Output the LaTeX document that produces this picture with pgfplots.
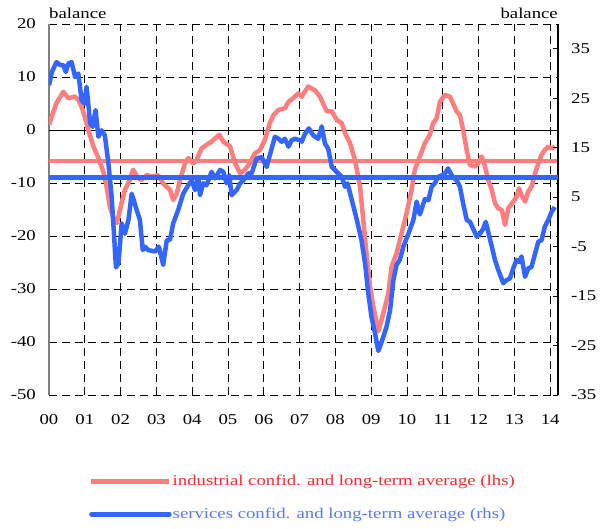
\documentclass[border=0pt]{standalone}
\usepackage{fontspec}
\setmainfont{Liberation Serif}[FakeStretch=1.25]
\usepackage{pgfplots}
\pgfplotsset{compat=1.18}
\definecolor{lred}{RGB}{255,125,125}
\definecolor{lblue}{RGB}{51,102,255}
\definecolor{tred}{RGB}{255,40,40}
\definecolor{tblue}{RGB}{85,120,255}
\begin{document}
\begin{tikzpicture}
\pgfplotsset{
  common/.style={
    scale only axis, width=509pt, height=371pt,
    xmin=0, xmax=14.22,
    at={(0,0)}, anchor=south west,
    font=\fontsize{15}{18}\selectfont,
  },
}
\begin{axis}[common,
  ymin=-50, ymax=20,
  axis y line*=left, axis x line*=bottom,
  x axis line style={draw=none},
  y axis line style={draw=gray, line width=1.8pt},
  xtick={0,...,14},
  xticklabels={00,01,02,03,04,05,06,07,08,09,10,11,12,13,14},
  ytick={-50,-40,-30,-20,-10,10,20},
  yticklabels={-50,-40,-30,-20,-10,10,20},
  extra y ticks={0}, extra y tick labels={0},
  extra y tick style={grid=major, major grid style={solid, black, line width=0.8pt}},
  grid=major,
  major grid style={black, line width=0.8pt, dash pattern=on 8pt off 5pt},
  major tick length=0pt,
  xticklabel style={inner sep=0pt, yshift=-19pt},
  yticklabel style={inner sep=0pt, xshift=-13pt},
  every axis y label/.style={at={(axis description cs:0,1)}, anchor=base west, yshift=6pt, inner sep=0pt},
  ylabel={balance},
  legend style={at={(axis description cs:0.0786,-0.213)}, anchor=north west, draw=none, fill=none,
    row sep=19pt, font=\fontsize{15}{18}\selectfont, inner sep=0pt,
    nodes={inner sep=1pt}},
  legend cell align=left,
  legend image code/.code={\draw[#1] (0pt,0pt) -- (78pt,0pt);},
]
\addplot[lred, line width=4.5pt, forget plot] coordinates {(0,-5.85) (14.22,-5.85)};
\addplot[lred, line width=4.5pt, line join=round] coordinates {
(0.00,1.0) (0.10,3.0) (0.21,5.1) (0.40,7.2) (0.54,6.0) (0.73,6.3) (0.82,5.7) (0.91,4.4)
(1.00,2.5) (1.10,0.0) (1.24,-3.1) (1.38,-5.3) (1.52,-7.9) (1.61,-10.7) (1.70,-14.5) (1.84,-17.3)
(1.90,-17.5) (1.98,-15.1) (2.12,-11.3) (2.26,-9.4) (2.35,-7.5) (2.49,-9.1) (2.59,-9.4) (2.73,-8.5)
(2.87,-8.8) (3.05,-8.5) (3.19,-10.1) (3.38,-11.3) (3.47,-13.2) (3.57,-12.0) (3.66,-9.4) (3.80,-6.3)
(3.89,-5.3) (4.03,-6.3) (4.12,-5.7) (4.26,-3.5) (4.40,-2.8) (4.54,-2.2) (4.64,-1.6) (4.76,-0.9)
(4.87,-2.2) (5.06,-3.1) (5.20,-6.3) (5.34,-8.2) (5.47,-7.5) (5.61,-6.3) (5.75,-4.4) (5.89,-3.8)
(6.03,-1.9) (6.17,1.3) (6.27,2.8) (6.41,3.8) (6.59,4.1) (6.69,5.3) (6.82,6.0) (6.96,6.9)
(7.06,6.3) (7.24,8.2) (7.43,7.5) (7.57,6.3) (7.76,3.5) (7.90,3.5) (8.04,1.9) (8.18,1.3)
(8.27,-0.6) (8.41,-2.5) (8.55,-5.7) (8.69,-10.7) (8.78,-17.0) (8.87,-23.3) (8.97,-29.6) (9.06,-33.3)
(9.20,-38.0) (9.34,-34.6) (9.48,-30.8) (9.57,-25.8) (9.71,-23.3) (9.85,-19.5) (9.99,-15.7) (10.13,-11.3)
(10.22,-7.5) (10.36,-5.0) (10.50,-2.5) (10.64,-0.9) (10.73,1.3) (10.83,2.2) (10.92,5.3) (11.06,6.6)
(11.20,6.3) (11.29,5.0) (11.39,3.5) (11.48,2.8) (11.57,0.0) (11.67,-3.8) (11.76,-6.6) (11.90,-6.9)
(11.99,-6.3) (12.09,-5.0) (12.18,-6.9) (12.27,-9.4) (12.37,-11.3) (12.46,-13.8) (12.55,-14.8) (12.65,-15.1)
(12.74,-17.9) (12.83,-14.8) (12.97,-13.5) (13.06,-12.6) (13.13,-11.0) (13.20,-12.3) (13.30,-13.5) (13.39,-11.6)
(13.48,-10.7) (13.58,-8.2) (13.67,-6.3) (13.76,-4.7) (13.85,-3.8) (13.95,-3.1) (14.04,-3.5) (14.13,-3.1)
};
\addlegendentry{\textcolor{tred}{industrial confid. and long-term average (lhs)}}
\addlegendimage{lblue, line width=4.5pt, line cap=round}
\addlegendentry{\textcolor{tblue}{services confid. and long-term average (rhs)}}
\end{axis}
\begin{axis}[common,
  ymin=-35, ymax=40,
  axis y line*=right, axis x line=none,
  y axis line style={black, line width=1.2pt},
  ytick={-35,-25,-15,-5,5,15,25,35},
  yticklabels={-35,-25,-15,-5,5,15,25,35},
  tick align=inside, major tick length=5pt,
  tick style={black, line width=0.8pt},
  yticklabel style={inner sep=0pt, xshift=13pt},
  every axis y label/.style={at={(axis description cs:1,1)}, anchor=base east, yshift=6pt, inner sep=0pt},
  ylabel={balance},
]
\addplot[lblue, line width=4.5pt] coordinates {(0,9.0) (14.22,9.0)};
\addplot[lblue, line width=4.5pt, line join=round] coordinates {
(0.00,27.6) (0.08,30.3) (0.21,32.3) (0.31,31.7) (0.40,31.7) (0.47,30.3) (0.54,32.0) (0.63,32.3)
(0.73,29.3) (0.82,30.0) (0.91,24.6) (0.99,23.9) (1.05,27.3) (1.15,19.9) (1.22,19.2) (1.30,22.6)
(1.38,17.2) (1.47,18.5) (1.56,17.5) (1.66,11.8) (1.75,5.1) (1.82,-3.0) (1.87,-9.2) (1.94,-8.4)
(2.03,-0.3) (2.12,-2.4) (2.22,0.4) (2.31,5.7) (2.45,2.4) (2.54,0.4) (2.62,-5.7) (2.68,-5.0)
(2.77,-5.7) (2.96,-6.0) (3.07,-5.0) (3.19,-8.7) (3.29,-3.7) (3.38,-3.6) (3.47,-0.3) (3.61,2.4)
(3.75,5.7) (3.89,7.4) (3.99,8.4) (4.08,6.4) (4.17,9.1) (4.22,5.4) (4.31,7.8) (4.40,7.4)
(4.54,10.1) (4.64,8.8) (4.78,10.5) (4.87,10.1) (4.96,7.8) (5.04,9.4) (5.10,5.4) (5.24,6.4)
(5.34,7.8) (5.43,8.4) (5.57,9.8) (5.66,9.8) (5.80,12.8) (5.94,13.1) (6.08,11.1) (6.17,13.5)
(6.31,17.2) (6.41,16.8) (6.50,16.2) (6.59,16.8) (6.69,15.2) (6.78,16.5) (6.87,16.8) (7.01,16.5)
(7.06,16.2) (7.15,17.8) (7.26,18.9) (7.38,17.5) (7.52,16.8) (7.62,19.3) (7.71,15.8) (7.80,14.8)
(7.90,11.1) (8.04,10.1) (8.18,9.1) (8.27,7.1) (8.34,7.8) (8.46,4.4) (8.60,0.4) (8.73,-3.7)
(8.83,-8.4) (8.92,-14.5) (9.01,-19.2) (9.11,-22.6) (9.20,-26.1) (9.31,-23.9) (9.43,-21.2) (9.53,-17.8)
(9.62,-11.8) (9.71,-8.7) (9.80,-7.7) (9.90,-5.0) (10.04,-2.4) (10.18,0.4) (10.27,4.1) (10.36,1.5)
(10.50,4.6) (10.60,4.4) (10.69,7.1) (10.78,7.8) (10.87,9.1) (10.97,9.4) (11.06,9.8) (11.15,10.8)
(11.25,9.4) (11.39,8.4) (11.48,7.1) (11.57,3.7) (11.67,0.4) (11.76,0.0) (11.85,-1.4) (11.95,-3.0)
(12.04,-2.4) (12.13,-1.4) (12.20,0.0) (12.27,-2.0) (12.37,-5.0) (12.46,-7.7) (12.55,-9.7) (12.69,-12.4)
(12.78,-11.8) (12.88,-11.4) (12.97,-9.4) (13.06,-7.7) (13.14,-8.1) (13.20,-7.0) (13.30,-11.1) (13.39,-9.4)
(13.48,-9.1) (13.58,-6.4) (13.67,-4.0) (13.76,-3.7) (13.85,-1.0) (13.95,0.4) (14.04,2.0) (14.13,3.0)
};
\end{axis}
\pgfresetboundingbox
\path[use as bounding box] (-49pt,-133pt) rectangle (564pt,395pt);
\end{tikzpicture}
\end{document}
